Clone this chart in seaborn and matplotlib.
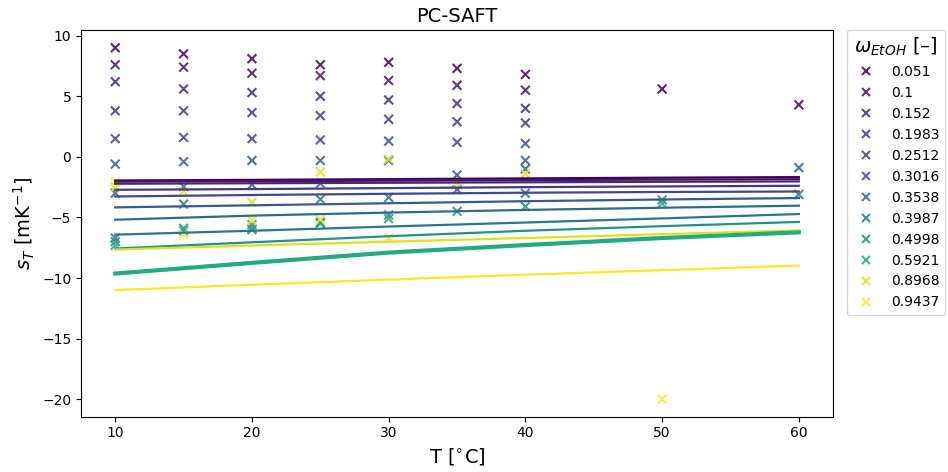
import numpy as np
import pandas as pd
import matplotlib
matplotlib.use("Agg")
import matplotlib.pyplot as plt
import seaborn as sns

# ---------------- data ----------------
omega = [0.051, 0.1, 0.152, 0.1983, 0.2512, 0.3016, 0.3538, 0.3987,
         0.4998, 0.5921, 0.8968, 0.9437]
omega_labels = ["0.051", "0.1", "0.152", "0.1983", "0.2512", "0.3016",
                "0.3538", "0.3987", "0.4998", "0.5921", "0.8968", "0.9437"]

# experimental temperatures [°C]
T_exp = [10, 15, 20, 25, 30, 35, 40, 50, 60]
nan = np.nan
s_exp_0051 = [9.0, 8.5, 8.1, 7.6, 7.8, 7.3, 6.8, 5.6, 4.3]
s_exp_0100 = [7.6, 7.4, 6.9, 6.7, 6.3, 5.9, 5.5, nan, nan]
s_exp_0152 = [6.2, 5.6, 5.3, 5.0, 4.7, 4.4, 4.0, nan, nan]
s_exp_01983 = [3.8, 3.8, 3.65, 3.4, 3.1, 2.9, 2.8, nan, nan]
s_exp_02512 = [1.5, 1.6, 1.5, 1.4, 1.3, 1.2, 1.1, nan, nan]
s_exp_03016 = [-0.6, -0.4, -0.3, -0.3, -0.3, -1.5, -0.3, nan, -0.9]
s_exp_03538 = [-3.0, -2.45, -2.3, -2.2, nan, -2.7, -1.0, nan, nan]
s_exp_03987 = [-6.7, -3.9, -6.0, -3.5, -3.35, nan, -3.0, nan, -3.1]
s_exp_04998 = [-7.0, -5.9, -5.6, -5.4, -4.8, -4.5, -4.1, -3.55, nan]
s_exp_05921 = [-7.3, -6.1, -5.9, -5.5, -5.1, nan, nan, -3.85, nan]
s_exp_08968 = [-2.5, -2.85, -3.75, -1.25, -0.2, -2.2, -1.4, nan, nan]
s_exp_09437 = [-2.1, -6.4, -5.25, -5.15, -6.7, nan, nan, -20.0, nan]

s_exp = [s_exp_0051, s_exp_0100, s_exp_0152, s_exp_01983, s_exp_02512,
         s_exp_03016, s_exp_03538, s_exp_03987, s_exp_04998, s_exp_05921,
         s_exp_08968, s_exp_09437]

# PC-SAFT model curves
T_model = [10, 20, 30, 40, 50, 60]
s_mod_0051 = [-1.95, -1.90, -1.84, -1.78, -1.72, -1.67]
s_mod_0100 = [-2.05, -2.01, -1.97, -1.92, -1.88, -1.84]
s_mod_0152 = [-2.22, -2.18, -2.14, -2.10, -2.06, -2.03]
s_mod_01983 = [-2.72, -2.66, -2.58, -2.50, -2.44, -2.39]
s_mod_02512 = [-3.27, -3.15, -3.05, -2.96, -2.90, -2.86]
s_mod_03016 = [-4.17, -4.00, -3.83, -3.66, -3.52, -3.40]
s_mod_03538 = [-5.19, -4.85, -4.60, -4.38, -4.20, -4.03]
s_mod_03987 = [-6.42, -6.10, -5.75, -5.42, -5.08, -4.72]
s_mod_04998 = [-7.57, -7.05, -6.55, -6.10, -5.72, -5.37]
s_mod_05921 = [-9.63, -8.75, -7.90, -7.28, -6.70, -6.23]
s_mod_08968 = [-7.65, -7.32, -7.00, -6.70, -6.38, -6.07]
s_mod_09437 = [-11.00, -10.55, -10.13, -9.73, -9.35, -8.97]

s_mod = [s_mod_0051, s_mod_0100, s_mod_0152, s_mod_01983, s_mod_02512,
         s_mod_03016, s_mod_03538, s_mod_03987, s_mod_04998, s_mod_05921,
         s_mod_08968, s_mod_09437]
thick_label = "0.5921"

# ---------------- tables ----------------
exp_rows = []
for lab, vals in zip(omega_labels, s_exp):
    for t, v in zip(T_exp, vals):
        if not np.isnan(v):
            exp_rows.append({"T": t, "sT": v, "omega": lab})
df_exp = pd.DataFrame(exp_rows)

mod_rows = []
for lab, vals in zip(omega_labels, s_mod):
    for t, v in zip(T_model, vals):
        mod_rows.append({"T": t, "sT": v, "omega": lab})
df_mod = pd.DataFrame(mod_rows)

cmap = matplotlib.colormaps["viridis"]
norm = matplotlib.colors.Normalize(vmin=min(omega), vmax=max(omega))
palette = {lab: cmap(norm(w)) for lab, w in zip(omega_labels, omega)}

# ---------------- plot ----------------
plt.rcParams["font.family"] = ["DejaVu Sans"]
fig, ax = plt.subplots(figsize=(9.48, 4.72), dpi=100)
fig.subplots_adjust(left=0.0855, right=0.8787, top=0.936, bottom=0.117)

sns.scatterplot(data=df_exp, x="T", y="sT", hue="omega", hue_order=omega_labels,
                palette=palette, marker="x", s=40, linewidth=1.5, alpha=0.85,
                ax=ax, legend="full")

thin = df_mod[df_mod["omega"] != thick_label]
thick = df_mod[df_mod["omega"] == thick_label]
sns.lineplot(data=thin, x="T", y="sT", hue="omega",
             hue_order=[l for l in omega_labels if l != thick_label],
             palette=palette, linewidth=1.6, ax=ax, legend=False)
sns.lineplot(data=thick, x="T", y="sT", hue="omega", palette=palette,
             linewidth=3, ax=ax, legend=False)

ax.set_title("PC-SAFT", fontsize=14)
ax.set_xlabel(r"T [$^{\circ}$C]", fontsize=14)
ax.set_ylabel(r"$s_T$ [mK$^{-1}$]", fontsize=14)
ax.set_xticks([10, 20, 30, 40, 50, 60])
ax.set_yticks([10, 5, 0, -5, -10, -15, -20])

handles, labels = ax.get_legend_handles_labels()
ax.legend(handles, labels, title=r"$\omega_{EtOH}$ [–]", title_fontsize=14,
          fontsize=10, loc="upper left", bbox_to_anchor=(1.018, 1.0),
          borderaxespad=0.0)

fig.savefig("out.png", dpi=100)
